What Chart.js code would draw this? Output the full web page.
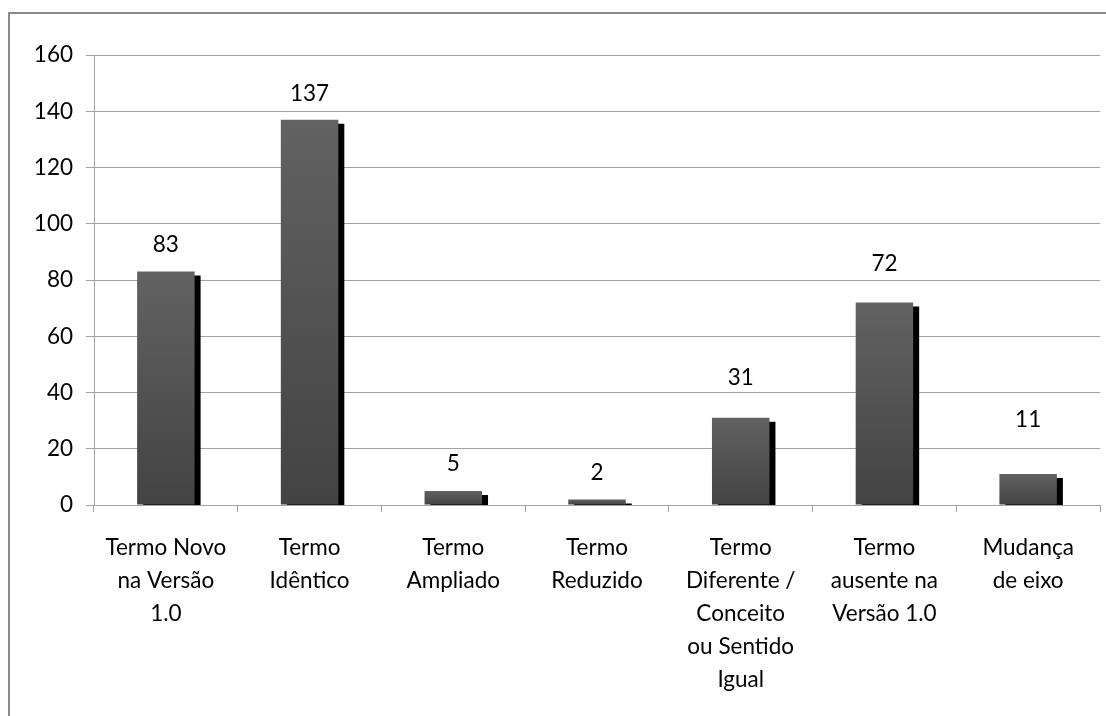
<!DOCTYPE html>
<html>
<head>
<meta charset="utf-8">
<script src="https://cdn.jsdelivr.net/npm/chart.js@4.4.1/dist/chart.umd.min.js"></script>
<style>
  html, body { margin: 0; padding: 0; background: #fff; }
  #wrap { width: 1106px; height: 716px; position: relative; }
</style>
</head>
<body>
<div id="wrap"><canvas id="grafico"></canvas></div>
<script>
const categorias = [
    ['Termo Novo', 'na Versão', '1.0'],
    ['Termo', 'Idêntico'],
    ['Termo', 'Ampliado'],
    ['Termo', 'Reduzido'],
    ['Termo', 'Diferente /', 'Conceito', 'ou Sentido', 'Igual'],
    ['Termo', 'ausente na', 'Versão 1.0'],
    ['Mudança', 'de eixo']
]
const valores = [83, 137, 5, 2, 31, 72, 11]
const yMax = 160
const yPasso = 20

// distância (px) entre o topo da barra e o rótulo, como no original
const afastamentoRotulo = [27, 26, 27, 27, 40, 39, 54]

const fonte = { family: 'Lato, "Liberation Sans", sans-serif', size: 22.5, lineHeight: 33 / 22.5 }
const cinzaGrade = '#a3a3a3'

// moldura cinza do gráfico (linha superior e esquerda)
const moldura = {
    id: 'moldura',
    beforeDraw(chart) {
        const ctx = chart.ctx
        ctx.save()
        ctx.strokeStyle = '#8a8a8a'
        ctx.lineWidth = 2
        ctx.beginPath()
        ctx.moveTo(9, chart.height)
        ctx.lineTo(9, 13)
        ctx.lineTo(chart.width, 13)
        ctx.stroke()
        ctx.restore()
    }
}

// sombra preta deslocada atrás das barras
const sombra = {
    id: 'sombra',
    beforeDatasetDraw(chart) {
        const ctx = chart.ctx
        ctx.save()
        ctx.shadowColor = '#000'
        ctx.shadowBlur = 0
        ctx.shadowOffsetX = 6
        ctx.shadowOffsetY = 4
    },
    afterDatasetDraw(chart) {
        chart.ctx.restore()
    }
}

const rotulos = {
    id: 'rotulos',
    afterDatasetsDraw(chart) {
        const ctx = chart.ctx
        const meta = chart.getDatasetMeta(0)
        ctx.save()
        ctx.fillStyle = '#000'
        ctx.font = `${fonte.size}px ${fonte.family}`
        ctx.textAlign = 'center'
        ctx.textBaseline = 'middle'
        meta.data.forEach((barra, i) => {
            ctx.fillText(String(valores[i]), barra.x, barra.y - afastamentoRotulo[i])
        })
        ctx.restore()
    }
}

const gradienteBarra = (context) => {
    const chart = context.chart
    const area = chart.chartArea
    if (!area) return '#555'
    const y = chart.scales.y
    const topo = y.getPixelForValue(valores[context.dataIndex])
    const base = y.getPixelForValue(0)
    const g = chart.ctx.createLinearGradient(0, topo, 0, base)
    g.addColorStop(0, '#626262')
    g.addColorStop(1, '#434343')
    return g
}

new Chart(document.getElementById('grafico'), {
    type: 'bar',
    data: {
        labels: categorias,
        datasets: [{
            data: valores,
            backgroundColor: gradienteBarra,
            borderWidth: 0,
            categoryPercentage: 1,
            barPercentage: 0.4,
            clip: 0
        }]
    },
    options: {
        responsive: true,
        maintainAspectRatio: false,
        animation: false,
        layout: { padding: { top: 55, right: 6, left: 0, bottom: 0 } },
        plugins: {
            legend: { display: false },
            tooltip: { enabled: false }
        },
        scales: {
            x: {
                afterFit: (scale) => { scale.height = 211 },
                grid: {
                    offset: true,
                    drawOnChartArea: false,
                    color: cinzaGrade,
                    tickLength: 7
                },
                border: { color: cinzaGrade },
                ticks: {
                    color: '#000',
                    font: fonte,
                    padding: 19,
                    maxRotation: 0,
                    autoSkip: false
                }
            },
            y: {
                min: 0,
                max: yMax,
                afterFit: (scale) => { scale.width = 94 },
                grid: {
                    color: cinzaGrade,
                    tickLength: 8
                },
                border: { color: cinzaGrade },
                ticks: {
                    stepSize: yPasso,
                    color: '#000',
                    font: { family: fonte.family, size: fonte.size },
                    padding: 13
                }
            }
        }
    },
    plugins: [moldura, sombra, rotulos]
})
</script>
</body>
</html>
